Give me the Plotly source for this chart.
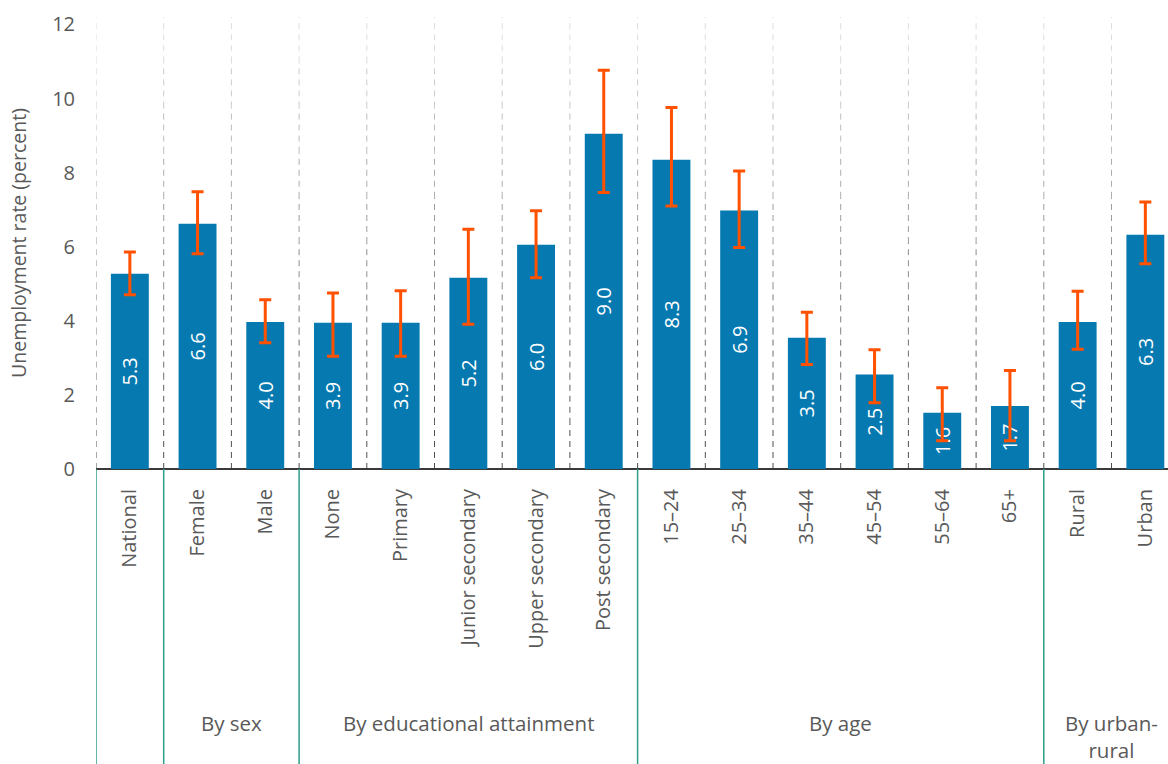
import plotly.graph_objects as go

# ---- data ----
categories = ["National", "Female", "Male", "None", "Primary", "Junior secondary",
              "Upper secondary", "Post secondary", "15–24", "25–34", "35–44", "45–54",
              "55–64", "65+", "Rural", "Urban"]
values = [5.27, 6.62, 3.97, 3.95, 3.95, 5.16, 6.05, 9.05, 8.35, 6.98, 3.54, 2.55,
          1.52, 1.70, 3.97, 6.32]
value_labels = ["5.3", "6.6", "4.0", "3.9", "3.9", "5.2", "6.0", "9.0", "8.3", "6.9",
                "3.5", "2.5", "1.6", "1.7", "4.0", "6.3"]
ci_high = [5.86, 7.48, 4.57, 4.75, 4.81, 6.47, 6.97, 10.76, 9.76, 8.04, 4.23, 3.22,
           2.19, 2.66, 4.80, 7.21]
ci_low = [4.70, 5.81, 3.41, 3.04, 3.04, 3.91, 5.16, 7.46, 7.10, 5.98, 2.82, 1.79,
          0.76, 0.76, 3.23, 5.54]
group_names = ["", "By sex", "By educational attainment", "By age", "By urban-<br>rural"]
group_sizes = [1, 2, 5, 6, 2]
y_ticks = [0, 2, 4, 6, 8, 10, 12]

BAR = "#0579b0"
ERR = "#ff5100"
GREEN = "#2e9e87"
TXT = "#595959"
FONT = "Open Sans"

x = list(range(len(categories)))
err_plus = [h - v for h, v in zip(ci_high, values)]
err_minus = [v - l for v, l in zip(values, ci_low)]

fig = go.Figure()
fig.add_trace(go.Bar(
    x=x, y=values, width=0.56, marker=dict(color=BAR, line=dict(width=0)),
    text=value_labels, textposition="inside", insidetextanchor="middle",
    textangle=-90, textfont=dict(color="white", size=20, family=FONT),
    error_y=dict(type="data", symmetric=False, array=err_plus, arrayminus=err_minus,
                 color=ERR, thickness=3, width=6),
    hoverinfo="skip",
))

YMAX = 12.2
shapes = []
# dashed gradient gridlines at category boundaries
nseg = 10
light = (221, 221, 221)
dark = (80, 80, 80)
for i in range(len(categories)):
    b = i - 0.5
    for k in range(nseg):
        t = k / (nseg - 1)
        c = tuple(int(dark[j] + (light[j] - dark[j]) * t) for j in range(3))
        shapes.append(dict(type="line", xref="x", yref="y", x0=b, x1=b,
                           y0=YMAX * k / nseg, y1=YMAX * (k + 1) / nseg,
                           line=dict(color="rgb(%d,%d,%d)" % c, width=1, dash="6px,5px"),
                           layer="below"))

# group separators below axis
bounds = [-0.5]
for s in group_sizes:
    bounds.append(bounds[-1] + s)
for b in bounds[:-1]:
    shapes.append(dict(type="line", xref="x", yref="paper", x0=b, x1=b, y0=0, y1=-0.66,
                       line=dict(color=GREEN, width=1.5)))

annotations = []
for name, lo, hi in zip(group_names, bounds[:-1], bounds[1:]):
    if name:
        annotations.append(dict(text=name, xref="x", yref="paper", x=(lo + hi) / 2,
                                y=-0.5265, yanchor="top", xanchor="center", showarrow=False,
                                align="center",
                                font=dict(size=20.5, color=TXT, family=FONT, lineposition="none"),
                                ))

PLOT_L = 96
W, H = 1168, 764
px_per_cat = 67.7
x_max = -0.5 + (W - PLOT_L) / px_per_cat

fig.update_layout(
    width=W, height=H, margin=dict(l=PLOT_L, r=0, t=17, b=295),
    paper_bgcolor="white", plot_bgcolor="white", showlegend=False,
    font=dict(family=FONT, color=TXT, size=20),
    shapes=shapes, annotations=annotations,
    xaxis=dict(range=[-0.5, x_max], tickmode="array", tickvals=x, ticktext=categories,
               tickangle=-90, showgrid=False, zeroline=False, showline=False,
               ticks="", ticklabelstandoff=15,
               tickfont=dict(size=20, color=TXT, family=FONT)),
    yaxis=dict(range=[0, YMAX], tickmode="array", tickvals=y_ticks, showgrid=False,
               zeroline=True, zerolinecolor="#3a3a3a", zerolinewidth=1.6,
               showline=False, ticks="", ticklabelstandoff=20,
               title=dict(text="Unemployment rate (percent)", standoff=20,
                          font=dict(size=19.5, color=TXT, family=FONT)),
               tickfont=dict(size=20, color=TXT, family=FONT)),
)

fig.write_html("out.html")
